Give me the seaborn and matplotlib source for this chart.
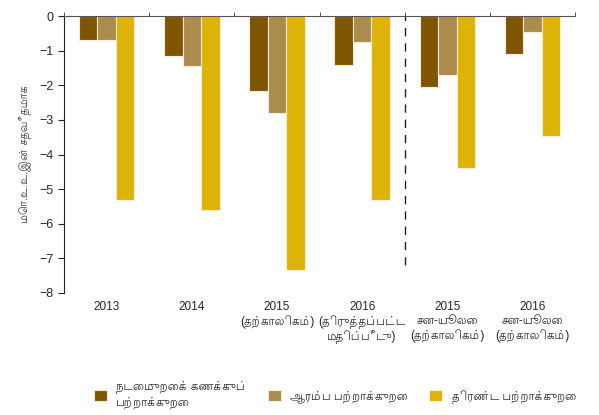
import numpy as np
import pandas as pd
import matplotlib
matplotlib.use("Agg")
import matplotlib.pyplot as plt
import seaborn as sns

groups = ["2013", "2014", "2015\n(தற்காலிகம்)", "2016\n(திருத்தப்பட்ட\nமதிப்பீடு)",
          "2015\nசன-யூலை\n(தற்காலிகம்)", "2016\nசன-யூலை\n(தற்காலிகம்)"]
series = ["நடைமுறைக் கணக்குப்\nபற்றாக்குறை", "ஆரம்ப பற்றாக்குறை", "திரண்ட பற்றாக்குறை"]
current_def = [-0.7, -1.15, -2.15, -1.4, -2.05, -1.1]
primary_def = [-0.7, -1.45, -2.8, -0.75, -1.7, -0.45]
overall_def = [-5.3, -5.6, -7.35, -5.3, -4.4, -3.45]
colors = ["#805500", "#ac8c4c", "#ddb307"]

sns.set_style("white")
plt.rcParams["font.family"] = ["Liberation Sans", "Lohit Tamil", "Noto Sans Tamil", "DejaVu Sans"]

df = pd.DataFrame({
    "group": groups * 3,
    "series": np.repeat(series, len(groups)),
    "value": current_def + primary_def + overall_def,
})

fig = plt.figure(figsize=(5.99, 4.15), dpi=100)
ax = fig.add_axes([0.107, 0.294, 0.853, 0.667])
sns.barplot(data=df, x="group", y="value", hue="series", palette=colors, saturation=1,
            width=0.65, gap=0, edgecolor="#f4ecd8", linewidth=0.8, ax=ax)

ax.set_ylim(-8, 0)
ax.set_xlim(-0.5, len(groups) - 0.5)
ax.set_yticks(range(-8, 1))
ax.set_ylabel("மொ.உ.உ.இன் சதவீதமாக", fontsize=8, color="#333333", labelpad=6)
ax.set_xlabel("")

for s in ["right", "bottom"]:
    ax.spines[s].set_visible(False)
ax.spines["top"].set_color("#555555")
ax.spines["left"].set_color("#222222")

ax.set_xticks(np.arange(-0.5, len(groups)), minor=True)
ax.tick_params(axis="x", which="major", length=0, labelsize=8.5, pad=6)
ax.tick_params(axis="x", which="minor", top=True, bottom=False, direction="out", length=3, color="#333333")
ax.tick_params(axis="y", left=True, length=4, labelsize=9, color="#222222")

ax.vlines(3.5, -7.2, 0, colors="#222222", linestyles=(0, (6, 5)), linewidth=1)

ax.legend(loc="upper center", bbox_to_anchor=(0.53, -0.28), ncol=3, frameon=False,
          fontsize=8.5, handlelength=1.1, handleheight=1.1, columnspacing=1.8)

fig.savefig("out.png", dpi=100)
